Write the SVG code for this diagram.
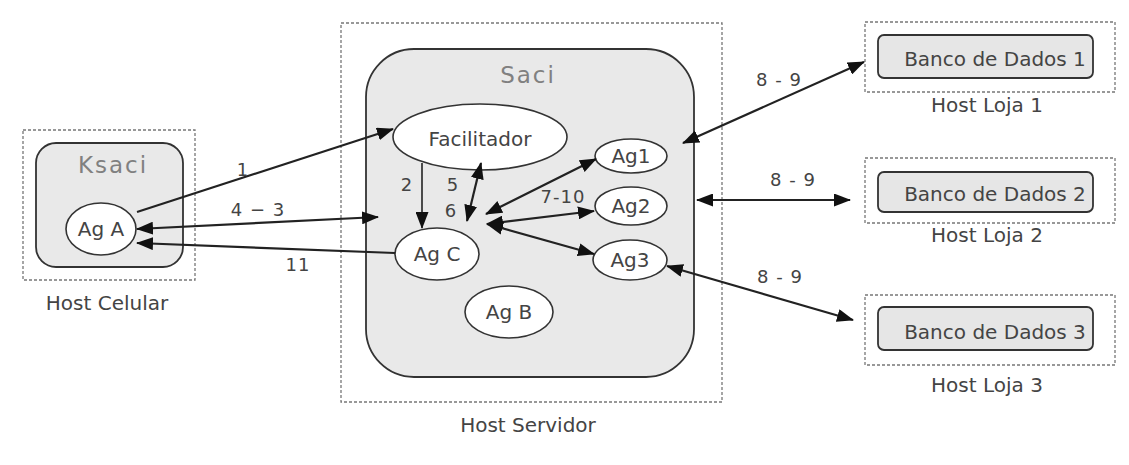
<svg xmlns="http://www.w3.org/2000/svg" width="1129" height="465" viewBox="0 0 1129 465">
<style>
text{font-family:"DejaVu Sans","Liberation Sans",sans-serif;fill:#444;text-anchor:middle}
.host{fill:none;stroke:#777;stroke-width:1.3;stroke-dasharray:3 2}
.cont{fill:#e9e9e9;stroke:#333;stroke-width:1.8}
.ag{fill:#fff;stroke:#333;stroke-width:1.6}
.db{fill:#e6e6e6;stroke:#333;stroke-width:1.8}
.lbl{font-size:20px}
.big{font-size:23px;fill:#808080;letter-spacing:2px}
.num{font-size:18px;letter-spacing:1px}
#connectors line{stroke:#222;stroke-width:2.2}
</style>
<defs>
<marker id="ah" markerUnits="userSpaceOnUse" markerWidth="17" markerHeight="13" refX="16" refY="6.5" orient="auto-start-reverse">
<path d="M0,0 L17,6.5 L0,13 z" fill="#111"/>
</marker>
</defs>
<rect width="1129" height="465" fill="#fff"/>

<g id="host-celular">
<rect class="host" x="23" y="130" width="172" height="150"/>
<text class="lbl" x="107" y="310">Host Celular</text>
</g>
<g id="ksaci">
<rect class="cont" x="36" y="143" width="147" height="124" rx="20"/>
<text class="big" x="113" y="173">Ksaci</text>
</g>
<g id="ag-a">
<ellipse class="ag" cx="101" cy="229" rx="35" ry="26"/>
<text class="lbl" x="101" y="236">Ag A</text>
</g>

<g id="host-servidor">
<rect class="host" x="341" y="23" width="381" height="379"/>
<text class="lbl" x="528" y="432">Host Servidor</text>
</g>
<g id="saci">
<rect class="cont" x="366" y="49" width="328" height="328" rx="48"/>
<text class="big" x="528" y="83">Saci</text>
</g>
<g id="facilitador">
<ellipse class="ag" cx="480" cy="137" rx="87" ry="33"/>
<text class="lbl" x="480" y="146">Facilitador</text>
</g>
<g id="ag1">
<ellipse class="ag" cx="631" cy="156" rx="36" ry="17"/>
<text class="lbl" x="631" y="163">Ag1</text>
</g>
<g id="ag2">
<ellipse class="ag" cx="631" cy="206" rx="36" ry="19"/>
<text class="lbl" x="631" y="213">Ag2</text>
</g>
<g id="ag3">
<ellipse class="ag" cx="630" cy="260" rx="37" ry="20"/>
<text class="lbl" x="630" y="267">Ag3</text>
</g>
<g id="ag-c">
<ellipse class="ag" cx="437" cy="254" rx="42" ry="26"/>
<text class="lbl" x="437" y="261">Ag C</text>
</g>
<g id="ag-b">
<ellipse class="ag" cx="509" cy="312" rx="44" ry="26"/>
<text class="lbl" x="509" y="319">Ag B</text>
</g>

<g id="host-loja-1">
<rect class="host" x="865" y="22" width="250" height="70"/>
<text class="lbl" x="987" y="112">Host Loja 1</text>
</g>
<g id="banco-1">
<rect class="db" x="878" y="35" width="215" height="43" rx="6"/>
<text class="lbl" x="995" y="66">Banco de Dados 1</text>
</g>
<g id="host-loja-2">
<rect class="host" x="865" y="158" width="250" height="65"/>
<text class="lbl" x="987" y="242">Host Loja 2</text>
</g>
<g id="banco-2">
<rect class="db" x="878" y="172" width="215" height="40" rx="6"/>
<text class="lbl" x="995" y="201">Banco de Dados 2</text>
</g>
<g id="host-loja-3">
<rect class="host" x="865" y="295" width="250" height="70"/>
<text class="lbl" x="987" y="392">Host Loja 3</text>
</g>
<g id="banco-3">
<rect class="db" x="878" y="307" width="215" height="43" rx="6"/>
<text class="lbl" x="995" y="339">Banco de Dados 3</text>
</g>

<g id="connectors">
<line x1="137" y1="212" x2="393" y2="129" marker-end="url(#ah)"/>
<line x1="137" y1="229" x2="378" y2="217" marker-start="url(#ah)" marker-end="url(#ah)"/>
<line x1="395" y1="253" x2="137" y2="243" marker-end="url(#ah)"/>
<line x1="422" y1="163" x2="422" y2="228" marker-end="url(#ah)" style="stroke-width:1.6"/>
<line x1="481" y1="163" x2="467" y2="221" marker-start="url(#ah)" marker-end="url(#ah)"/>
<line x1="486" y1="214" x2="596" y2="159" marker-start="url(#ah)" marker-end="url(#ah)"/>
<line x1="487" y1="224" x2="594" y2="211" marker-start="url(#ah)" marker-end="url(#ah)"/>
<line x1="487" y1="224" x2="594" y2="254" marker-start="url(#ah)" marker-end="url(#ah)"/>
<line x1="683" y1="143" x2="864" y2="62" marker-start="url(#ah)" marker-end="url(#ah)"/>
<line x1="697" y1="200" x2="850" y2="200" marker-start="url(#ah)" marker-end="url(#ah)"/>
<line x1="667" y1="266" x2="853" y2="320" marker-start="url(#ah)" marker-end="url(#ah)"/>
<text class="num" x="243" y="176">1</text>
<text class="num" x="258" y="216">4 − 3</text>
<text class="num" x="298" y="271">11</text>
<text class="num" x="407" y="191">2</text>
<text class="num" x="453" y="191">5</text>
<text class="num" x="451" y="217">6</text>
<text class="num" x="563" y="203">7-10</text>
<text class="num" x="779" y="86">8 - 9</text>
<text class="num" x="793" y="186">8 - 9</text>
<text class="num" x="780" y="283">8 - 9</text>
</g>
</svg>
